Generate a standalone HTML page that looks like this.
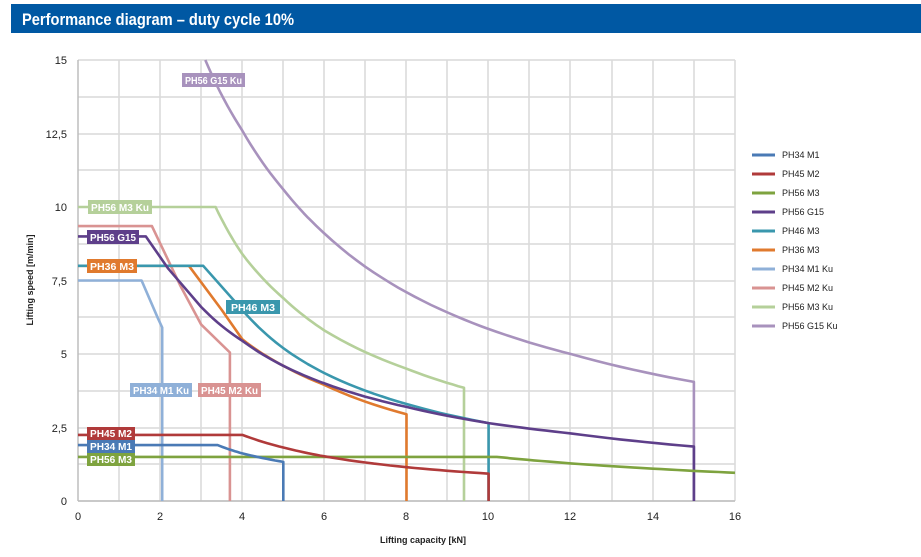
<!DOCTYPE html>
<html><head><meta charset="utf-8"><style>
body{margin:0;background:#fff;width:921px;height:552px;overflow:hidden;font-family:"Liberation Sans",sans-serif}
svg text{font-family:"Liberation Sans",sans-serif}
</style></head><body>
<svg id="s" width="921" height="552" xmlns="http://www.w3.org/2000/svg">
<rect x="11" y="4" width="910" height="29" fill="#0058a3"/>
<text x="22" y="25" fill="#fff" font-size="17" font-weight="bold" textLength="272" lengthAdjust="spacingAndGlyphs">Performance diagram – duty cycle 10%</text>
<g stroke="#d9d9d9" stroke-width="1.5">
<line x1="78" y1="60" x2="735" y2="60"/><line x1="78" y1="97" x2="735" y2="97"/><line x1="78" y1="134" x2="735" y2="134"/><line x1="78" y1="170" x2="735" y2="170"/><line x1="78" y1="207" x2="735" y2="207"/><line x1="78" y1="244" x2="735" y2="244"/><line x1="78" y1="281" x2="735" y2="281"/><line x1="78" y1="317" x2="735" y2="317"/><line x1="78" y1="354" x2="735" y2="354"/><line x1="78" y1="391" x2="735" y2="391"/><line x1="78" y1="428" x2="735" y2="428"/><line x1="78" y1="464" x2="735" y2="464"/><line x1="78" y1="501" x2="735" y2="501"/>
<line x1="119" y1="60" x2="119" y2="501"/><line x1="160" y1="60" x2="160" y2="501"/><line x1="201" y1="60" x2="201" y2="501"/><line x1="242" y1="60" x2="242" y2="501"/><line x1="283" y1="60" x2="283" y2="501"/><line x1="324" y1="60" x2="324" y2="501"/><line x1="365" y1="60" x2="365" y2="501"/><line x1="406" y1="60" x2="406" y2="501"/><line x1="447" y1="60" x2="447" y2="501"/><line x1="488" y1="60" x2="488" y2="501"/><line x1="529" y1="60" x2="529" y2="501"/><line x1="570" y1="60" x2="570" y2="501"/><line x1="612" y1="60" x2="612" y2="501"/><line x1="653" y1="60" x2="653" y2="501"/><line x1="694" y1="60" x2="694" y2="501"/><line x1="735" y1="60" x2="735" y2="501"/>
</g>
<g stroke="#bdbdbd" stroke-width="1.5"><line x1="78" y1="60" x2="78" y2="501"/><line x1="78" y1="501" x2="735" y2="501"/></g>
<g font-size="11" fill="#222" text-anchor="end">
<text x="67" y="64">15</text><text x="67" y="138">12,5</text><text x="67" y="211">10</text><text x="67" y="285">7,5</text><text x="67" y="358">5</text><text x="67" y="432">2,5</text><text x="67" y="505">0</text>
</g>
<g font-size="11" fill="#222" text-anchor="middle">
<text x="78" y="520">0</text><text x="160" y="520">2</text><text x="242" y="520">4</text><text x="324" y="520">6</text><text x="406" y="520">8</text><text x="488" y="520">10</text><text x="570" y="520">12</text><text x="653" y="520">14</text><text x="735" y="520">16</text>
</g>
<text x="423" y="543" font-size="9" font-weight="bold" text-anchor="middle" fill="#222">Lifting capacity [kN]</text>
<text transform="translate(33,280) rotate(-90)" font-size="9" font-weight="bold" text-anchor="middle" fill="#222">Lifting speed [m/min]</text>
<g id="curves" fill="none" stroke-width="2.6" stroke-linejoin="round"></g>
<g font-size="10" font-weight="bold" fill="#fff">
<rect x="182" y="73" width="63" height="14" fill="#a892bd"/><text x="185" y="84" textLength="57" lengthAdjust="spacingAndGlyphs">PH56 G15 Ku</text>
<rect x="88" y="200" width="64" height="14" fill="#b5d09a"/><text x="91" y="211" textLength="58" lengthAdjust="spacingAndGlyphs">PH56 M3 Ku</text>
<rect x="87" y="230" width="52" height="14" fill="#5e3f8a"/><text x="90" y="241" textLength="46" lengthAdjust="spacingAndGlyphs">PH56 G15</text>
<rect x="87" y="259" width="50" height="14" fill="#e07a2e"/><text x="90" y="270" textLength="44" lengthAdjust="spacingAndGlyphs">PH36 M3</text>
<rect x="226" y="300" width="54" height="14" fill="#3a97ad"/><text x="231" y="311" textLength="44" lengthAdjust="spacingAndGlyphs">PH46 M3</text>
<rect x="130" y="383" width="62" height="14" fill="#8fb0d8"/><text x="133" y="394" textLength="56" lengthAdjust="spacingAndGlyphs">PH34 M1 Ku</text>
<rect x="198" y="383" width="63" height="14" fill="#d99392"/><text x="201" y="394" textLength="57" lengthAdjust="spacingAndGlyphs">PH45 M2 Ku</text>
<rect x="87" y="427" width="48" height="13" fill="#b03a3a"/><text x="90" y="437" textLength="42" lengthAdjust="spacingAndGlyphs">PH45 M2</text>
<rect x="87" y="440" width="48" height="13" fill="#4a7ab5"/><text x="90" y="450" textLength="42" lengthAdjust="spacingAndGlyphs">PH34 M1</text>
<rect x="87" y="453" width="48" height="13" fill="#7ea33f"/><text x="90" y="463" textLength="42" lengthAdjust="spacingAndGlyphs">PH56 M3</text>
</g>
<g stroke-width="3">
<line x1="752" y1="155" x2="775" y2="155" stroke="#4a7ab5"/>
<line x1="752" y1="174" x2="775" y2="174" stroke="#b03a3a"/>
<line x1="752" y1="193" x2="775" y2="193" stroke="#7ea33f"/>
<line x1="752" y1="212" x2="775" y2="212" stroke="#5e3f8a"/>
<line x1="752" y1="231" x2="775" y2="231" stroke="#3a97ad"/>
<line x1="752" y1="250" x2="775" y2="250" stroke="#e07a2e"/>
<line x1="752" y1="269" x2="775" y2="269" stroke="#8fb0d8"/>
<line x1="752" y1="288" x2="775" y2="288" stroke="#d99392"/>
<line x1="752" y1="307" x2="775" y2="307" stroke="#b5d09a"/>
<line x1="752" y1="326" x2="775" y2="326" stroke="#a892bd"/>
</g>
<g font-size="9" fill="#222">
<text x="782" y="158">PH34 M1</text><text x="782" y="177">PH45 M2</text><text x="782" y="196">PH56 M3</text><text x="782" y="215">PH56 G15</text><text x="782" y="234">PH46 M3</text><text x="782" y="253">PH36 M3</text><text x="782" y="272">PH34 M1 Ku</text><text x="782" y="291">PH45 M2 Ku</text><text x="782" y="310">PH56 M3 Ku</text><text x="782" y="329">PH56 G15 Ku</text>
</g>
</svg>
<script>
var S=[
["#a892bd",[[3.1,15],[4,12.6],[5,10.6],[6,9.1],[8,7.1],[10,5.85],[12,5.0],[15,4.05]],[15,0],0],
["#b5d09a",[[0,10],[3.35,10],[4,8.4],[5,6.9],[6,5.8],[8,4.5],[9.4,3.85]],[9.4,0],3.35],
["#d99392",[[0,9.35],[1.8,9.35],[2.5,7.3],[3,6],[3.7,5.05]],[3.7,0],99],
["#8fb0d8",[[0,7.5],[1.55,7.5],[1.95,6.2],[2.05,5.9]],[2.05,0],99],
["#e07a2e",[[0,8],[2.7,8],[3.5,6.5],[4,5.5],[5,4.6],[6,3.95],[8,2.95]],[8,0],4],
["#3a97ad",[[0,8],[3.05,8],[4,6.5],[5,5.2],[6,4.35],[8,3.3],[10,2.65]],[10,0],4],
["#5e3f8a",[[0,9],[1.65,9],[2.2,7.9],[3,6.6],[4,5.45],[5,4.6],[6,4.0],[8,3.2],[10,2.65],[12,2.3],[15,1.85]],[15,0],3],
["#7ea33f",[[0,1.5],[10.2,1.5],[12,1.28],[14,1.1],[16,0.96]],null,10.2],
["#b03a3a",[[0,2.25],[4,2.25],[5,1.82],[6,1.52],[8,1.15],[10,0.93]],[10,0],4],
["#4a7ab5",[[0,1.9],[3.4,1.9],[4,1.62],[5,1.33]],[5,0],3.4]];
var g=document.getElementById('curves'),X=function(x){return 78+x*41.0625},Y=function(y){return 501-y*29.4};
S.forEach(function(s){var p=s[1],out=[];
for(var i=0;i<p.length;i++){var a=p[i];out.push([a[0],a[1]]);
 if(i+1<p.length){var b=p[i+1];if(a[0]>=s[3]&&a[0]>0&&a[1]!=b[1]){var k=Math.log(b[1]/a[1])/Math.log(b[0]/a[0]);
  for(var j=1;j<10;j++){var x=a[0]+(b[0]-a[0])*j/10;out.push([x,a[1]*Math.pow(x/a[0],k)]);}}}}
if(s[2])out.push(s[2]);
var pl=document.createElementNS('http://www.w3.org/2000/svg','polyline');
pl.setAttribute('points',out.map(function(q){return X(q[0]).toFixed(1)+','+Y(q[1]).toFixed(1)}).join(' '));
pl.setAttribute('stroke',s[0]);g.appendChild(pl);});
</script>
</body></html>
